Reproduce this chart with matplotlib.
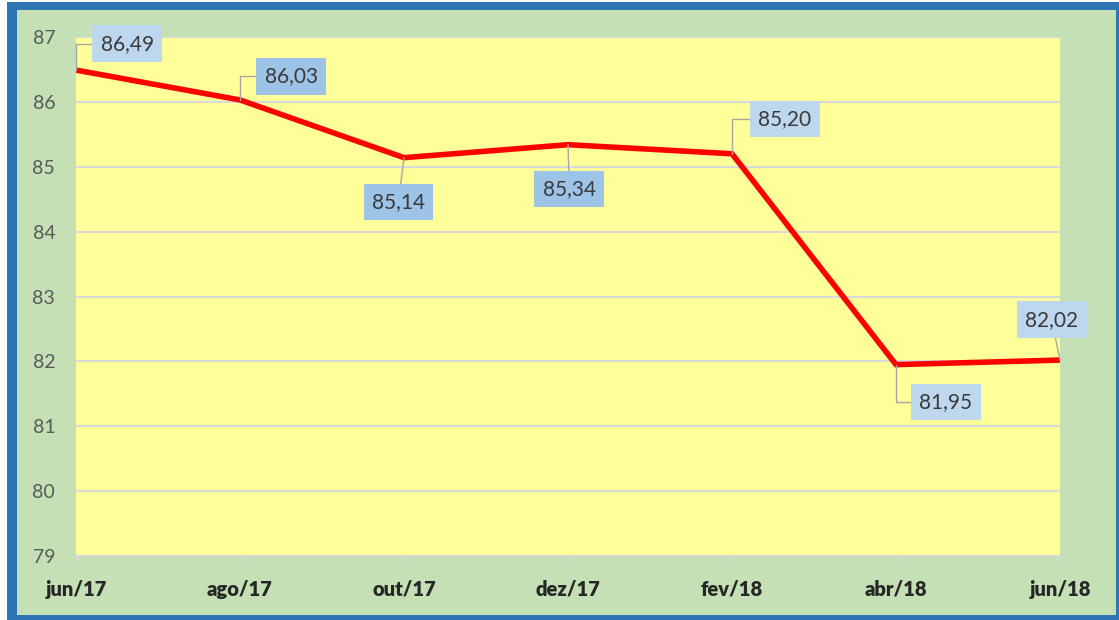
import numpy as np
import matplotlib
matplotlib.use('Agg')
import matplotlib.pyplot as plt
from matplotlib.patches import Rectangle

# dados
meses = ['jun/17', 'ago/17', 'out/17', 'dez/17', 'fev/18', 'abr/18', 'jun/18']
valores = [86.49, 86.03, 85.14, 85.34, 85.20, 81.95, 82.02]
yticks = [79, 80, 81, 82, 83, 84, 85, 86, 87]

# posicao dos rotulos (pontos) e estilo
offsets = [(37, 19), (37, 17), (-4, -32), (1, -32), (38, 25), (36, -27), (-6, 29)]
cotovelo = [True, True, False, False, True, True, False]
cor_caixa = ['#BDD7EE', '#9DC3E6', '#9DC3E6', '#9DC3E6', '#BDD7EE', '#BDD7EE', '#BDD7EE']

plt.rcParams['font.family'] = ['Lato', 'DejaVu Sans']

W, H = 1119, 620
fig = plt.figure(figsize=(W / 100, H / 100), dpi=100, facecolor='white')
fig.patches.append(Rectangle((7 / W, 0), 1 - 7 / W, 1 - 2 / H, transform=fig.transFigure,
                             facecolor='#2E75B6', edgecolor='none', zorder=-2))
fig.patches.append(Rectangle((17 / W, 5 / H), (1116 - 17) / W, (610 - 5) / H, transform=fig.transFigure,
                             facecolor='#C5E0B4', edgecolor='none', zorder=-1))

ax = fig.add_axes([76 / W, 1 - 556 / H, (1060 - 76) / W, (556 - 37) / H])
ax.set_zorder(2)
ax.set_facecolor('#FFFF99')
x = np.arange(len(meses))
ax.plot(x, valores, color='#FF0000', lw=4, solid_joinstyle='miter', zorder=3)

ax.set_xlim(0, len(meses) - 1)
ax.set_ylim(79, 87)
ax.set_yticks(yticks)
ax.set_xticks(x)
ax.set_xticklabels(meses, fontsize=14.5, fontweight='heavy', color='#262626')
ax.tick_params(axis='y', length=0, pad=15, labelsize=14, labelcolor='#595959')
ax.tick_params(axis='x', length=5, width=1, color='#D9D9D9', pad=12)
ax.grid(axis='y', color='#D9D9D9', lw=1.5)
for s in ['top', 'right', 'left']:
    ax.spines[s].set_visible(False)
ax.spines['bottom'].set_color('#D9D9D9')
ax.spines['bottom'].set_linewidth(1.5)

for i, v in enumerate(valores):
    rot = f'{v:.2f}'.replace('.', ',')
    if cotovelo[i]:
        con = 'angle,angleA=0,angleB=90,rad=0'
    else:
        con = 'arc3,rad=0'
    ax.annotate(rot, xy=(i, v), xytext=offsets[i], textcoords='offset points',
                ha='center', va='center', fontsize=15, color='#3A3A3A',
                bbox=dict(boxstyle='square,pad=0.4', fc=cor_caixa[i], ec='none'),
                arrowprops=dict(arrowstyle='-', color='#A6A6A6', lw=1,
                                connectionstyle=con, shrinkA=0, shrinkB=0),
                annotation_clip=False, zorder=5)

fig.savefig('out.png', dpi=100, facecolor=fig.get_facecolor())
